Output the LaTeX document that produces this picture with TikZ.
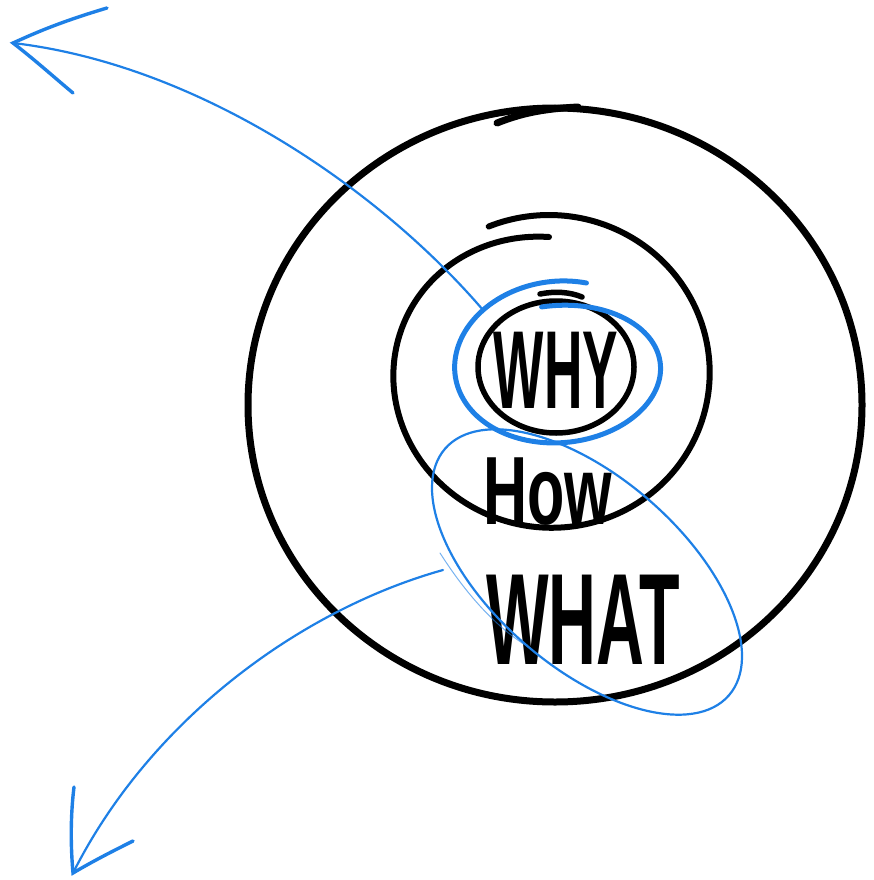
\documentclass[tikz,border=0pt]{standalone}
\usepackage{fontspec}
\setmainfont{Liberation Sans}
\usepackage{graphicx}
\definecolor{sketchblue}{RGB}{30,128,230}
\tikzset{
  ink/.style={draw=black, line cap=round, line join=round},
  outerring/.style={ink, line width=7pt},
  midring/.style={ink, line width=6pt},
  innerring/.style={ink, line width=5.5pt},
  bluethick/.style={draw=sketchblue, line width=5pt, line cap=round},
  bluethin/.style={draw=sketchblue, line width=2.2pt, line cap=round},
  bluehair/.style={draw=sketchblue, line width=1pt, line cap=round, opacity=0.6},
  bluebarb/.style={draw=sketchblue, line width=3.4pt, line cap=round, line join=miter},
  word/.style={anchor=base, inner sep=0pt, text=black},
}
\begin{document}
\begin{tikzpicture}[x=1pt, y=-1pt]
  \useasboundingbox (0,0) rectangle (873,880);

  % outer ring (WHAT)
  \draw[outerring] (555,405) ellipse [x radius=307, y radius=297];
  \draw[outerring] (497,123) .. controls (520,114) and (540,109) .. (578,107);

  % middle ring (HOW), drawn as a spiral stroke
  \draw[midring] plot[domain=-270:112, samples=160, smooth]
    ({549+(161-12*((112-\x)/382)^3)*cos(\x)}, {373-(158-22*((112-\x)/382)^3)*sin(\x)});

  % inner ring (WHY)
  \draw[innerring] (556,367) ellipse [x radius=78, y radius=66];
  \draw[innerring] (540,294) .. controls (555,291) and (570,292) .. (582,297);

  % words
  \node[word, font=\bfseries\fontsize{111}{111}\selectfont] (why) at (556,408) {\scalebox{0.48}[1]{WHY}};
  \node[word, font=\bfseries\fontsize{97}{97}\selectfont] (how) at (548,524) {\scalebox{0.63}[1]{How}};
  \node[word, font=\bfseries\fontsize{130}{130}\selectfont] (what) at (583,664) {\scalebox{0.51}[1]{WHAT}};

  % blue spiral round WHY
  \draw[bluethick] plot[domain=75:460, samples=160, smooth]
    ({559+(106-6*(\x-75)/385)*cos(\x)}, {368-(88-26*(\x-75)/385)*sin(\x)});

  % blue ellipse round HOW and WHAT
  \draw[bluethin, rotate around={-41:(587,572)}] (587,572) ellipse [x radius=188, y radius=95];
  \draw[bluehair] (440,553) .. controls (470,600) and (500,630) .. (530,648);

  % upper arrow
  \coordinate (ustart) at (483,310);
  \coordinate (utip) at (13,43);
  \coordinate (ubarbA) at (107,8);
  \coordinate (ubarbB) at (73,93);
  \draw[bluethin] (ustart) .. controls (380,190) and (200,65) .. (utip);
  \draw[bluebarb] (ubarbA) .. controls (60,22) and (35,33) .. (utip) .. controls (35,60) and (55,78) .. (ubarbB);

  % lower arrow
  \coordinate (lstart) at (443,570);
  \coordinate (ltip) at (73,873);
  \coordinate (lbarbA) at (74,787);
  \coordinate (lbarbB) at (133,841);
  \draw[bluethin] (lstart) .. controls (300,610) and (150,720) .. (ltip);
  \draw[bluebarb] (lbarbA) .. controls (70,820) and (71,850) .. (ltip) .. controls (95,860) and (115,850) .. (lbarbB);
\end{tikzpicture}
\end{document}
